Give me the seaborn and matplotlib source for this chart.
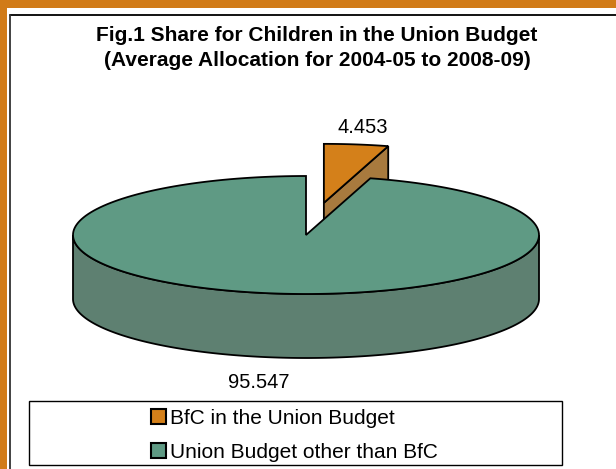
import numpy as np
import matplotlib
matplotlib.use("Agg")
import matplotlib.pyplot as plt
from matplotlib.patches import Polygon, Rectangle, Patch
from matplotlib.lines import Line2D
import seaborn as sns

# ---- data ----
categories = ["BfC in the Union Budget", "Union Budget other than BfC"]
values = [4.453, 95.547]
value_labels = ["4.453", "95.547"]
title_lines = ["Fig.1 Share for Children in the Union Budget",
               "(Average Allocation for 2004-05 to 2008-09)"]
explode = [0.55, 0.0]

# ---- style ----
top_colors = ["#D4801A", "#5F9A84"]
side_colors = ["#A87A3E", "#5E8071"]
sns.set_theme(style="white")
plt.rcParams["font.family"] = ["Liberation Sans", "DejaVu Sans"]
plt.rcParams["text.color"] = "black"

W, H = 616, 469
fig = plt.figure(figsize=(W / 100, H / 100), dpi=100)
fig.patch.set_facecolor("white")

# pie axes: 1 unit = 233 px in both directions
S = 233.0
cxp, cyp = 306.0, 235.0
ax = fig.add_axes([0, 0, 1, 1])
ax.set_xlim(-cxp / S, (W - cxp) / S)
ax.set_ylim(-(H - cyp) / S, cyp / S)
ax.axis("off")

tilt = 59.0 / S      # vertical squash of the pie
depth = 64.0 / S     # thickness of the pie

fr = np.array(values) / np.sum(values)
edges = 90.0 - 360.0 * np.concatenate([[0], np.cumsum(fr)])
lw = 1.3


def arc(t1, t2, n=200):
    t = np.radians(np.linspace(t1, t2, n))
    return np.column_stack([np.cos(t), tilt * np.sin(t)])


def front_parts(t_hi, t_lo):
    # angular ranges (descending) inside [t_lo, t_hi] where sin < 0
    parts = []
    for k in range(-2, 3):
        a, b = -180 + 360 * k, 360 * k
        lo, hi = max(a, t_lo), min(b, t_hi)
        if hi > lo:
            parts.append((hi, lo))
    return parts


order = [0, 1]  # back slice first
for i in order:
    t_hi, t_lo = edges[i], edges[i + 1]
    mid = np.radians((t_hi + t_lo) / 2)
    off = np.array([explode[i] * np.cos(mid), explode[i] * tilt * np.sin(mid)])
    dz = np.array([0, -depth])
    # outer side walls (front only)
    for a, b in front_parts(t_hi, t_lo):
        top = arc(a, b) + off
        bot = top[::-1] + dz
        ax.add_patch(Polygon(np.vstack([top, bot]), closed=True,
                             facecolor=side_colors[i], edgecolor="black",
                             lw=lw, joinstyle="miter"))
    # cut face at clockwise end if facing viewer
    if explode[i] > 0:
        p = arc(t_lo, t_lo, 1)[0] + off
        quad = np.array([off, p, p + dz, off + dz])
        ax.add_patch(Polygon(quad, closed=True, facecolor=side_colors[i],
                             edgecolor="black", lw=lw, joinstyle="miter"))
    # top face
    face = np.vstack([off, arc(t_hi, t_lo) + off])
    ax.add_patch(Polygon(face, closed=True, facecolor=top_colors[i],
                         edgecolor="black", lw=lw, joinstyle="miter"))

# data labels
label_pos = [(0.245, 0.462), (-0.203, -0.635)]
for (x, y), t in zip(label_pos, value_labels):
    ax.text(x, y, t, ha="center", va="center", fontsize=14.5, color="black")

# title
fig.text(317 / W, 1 - 35.5 / H, title_lines[0], ha="center", va="center",
         fontsize=15, fontweight="bold", color="black")
fig.text(317 / W, 1 - 60.5 / H, title_lines[1], ha="center", va="center",
         fontsize=15, fontweight="bold", color="black")

# outer frame: orange strips and black border line
orange = "#D17B18"
fig.patches.append(Rectangle((0, 1 - 8 / H), 1, 8 / H, transform=fig.transFigure,
                             facecolor=orange, edgecolor="none"))
fig.patches.append(Rectangle((0, 0), 7 / W, 1, transform=fig.transFigure,
                             facecolor=orange, edgecolor="none"))
fig.lines.append(Line2D([9.5 / W, 1], [1 - 15.5 / H, 1 - 15.5 / H],
                        transform=fig.transFigure, color="black", lw=1.3))
fig.lines.append(Line2D([9.5 / W, 9.5 / W], [0, 1 - 15.5 / H],
                        transform=fig.transFigure, color="#333333", lw=1.3))

# legend box
fig.patches.append(Rectangle((28.5 / W, (H - 464.5) / H), 533 / W, 64 / H,
                             transform=fig.transFigure, facecolor="white",
                             edgecolor="black", lw=1.0))
handles = [Patch(facecolor=c, edgecolor="black", lw=1.5) for c in top_colors]
leg = fig.legend(handles, categories, loc="upper left",
                 bbox_to_anchor=(151 / W, (H - 409) / H), frameon=False,
                 fontsize=15, handlelength=0.72, handleheight=0.72,
                 handletextpad=0.2, labelspacing=0.7, borderaxespad=0,
                 borderpad=0)
for t in leg.get_texts():
    t.set_color("black")

fig.savefig("out.png", dpi=100)
